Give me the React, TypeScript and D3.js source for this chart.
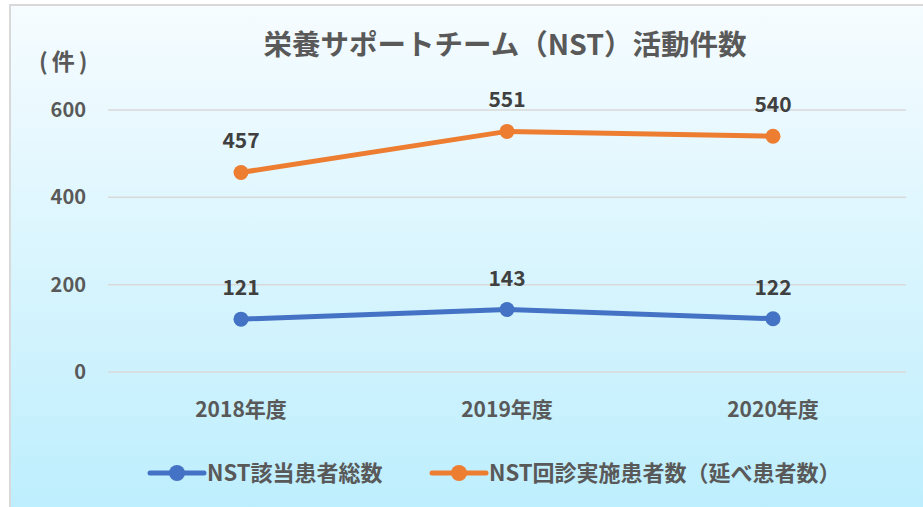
import { useEffect, useRef } from 'react';
import * as d3 from 'd3';

const categories = ['2018年度', '2019年度', '2020年度'];
const seriesNames = ['NST該当患者総数', 'NST回診実施患者数（延べ患者数）'];
const totalPatients = [121, 143, 122];
const roundPatients = [457, 551, 540];
const yTicks = [0, 200, 400, 600];
const colors = ['#4472C4', '#ED7D31'];

const App = () => {
  const svgRef = useRef<SVGSVGElement>(null);

  useEffect(() => {
    const W = 923;
    const H = 507;
    const font = '"Noto Sans CJK JP", "Noto Sans", sans-serif';

    const svg = d3.select(svgRef.current);
    svg.selectAll('*').remove();
    svg.attr('width', W).attr('height', H);

    // 背景グラデーション
    const defs = svg.append('defs');
    const grad = defs.append('linearGradient')
      .attr('id', 'bg')
      .attr('x1', 0).attr('y1', 0).attr('x2', 0).attr('y2', 1);
    grad.append('stop').attr('offset', '0%').attr('stop-color', '#f6fcff');
    grad.append('stop').attr('offset', '100%').attr('stop-color', '#bdeefd');

    svg.append('rect')
      .attr('x', 10).attr('y', 5)
      .attr('width', W).attr('height', H)
      .attr('fill', 'url(#bg)')
      .attr('stroke', '#d9d9d9')
      .attr('stroke-width', 2);

    // Escalas
    const x = d3.scaleBand().domain(categories).range([108, 906]);
    const y = d3.scaleLinear().domain([0, 600]).range([372, 110]);
    const cx = (i: number) => x(categories[i])! + x.bandwidth() / 2;

    // グリッド
    svg.append('g')
      .selectAll('line')
      .data(yTicks)
      .join('line')
      .attr('x1', 108).attr('x2', 906)
      .attr('y1', d => y(d)).attr('y2', d => y(d))
      .attr('stroke', '#d9d9d9')
      .attr('stroke-width', 1.5);

    // Y軸ラベル
    svg.append('g')
      .selectAll('text')
      .data(yTicks)
      .join('text')
      .attr('x', 86)
      .attr('y', d => y(d) + 7)
      .attr('text-anchor', 'end')
      .attr('font-family', font)
      .attr('font-weight', 'bold')
      .attr('font-size', 20)
      .attr('fill', '#595959')
      .text(d => d);

    // X軸ラベル
    svg.append('g')
      .selectAll('text')
      .data(categories)
      .join('text')
      .attr('x', d => x(d)! + x.bandwidth() / 2)
      .attr('y', 417)
      .attr('text-anchor', 'middle')
      .attr('font-family', font)
      .attr('font-weight', 'bold')
      .attr('font-size', 21)
      .attr('fill', '#595959')
      .text(d => d);

    // タイトル
    svg.append('text')
      .attr('x', 505)
      .attr('y', 55)
      .attr('text-anchor', 'middle')
      .attr('font-family', font)
      .attr('font-weight', 'bold')
      .attr('font-size', 28.5)
      .attr('fill', '#595959')
      .text('栄養サポートチーム（NST）活動件数');

    svg.append('text')
      .attr('x', 39)
      .attr('y', 70)
      .attr('font-family', font)
      .attr('font-weight', 'bold')
      .attr('font-size', 23)
      .attr('letter-spacing', 4)
      .attr('fill', '#595959')
      .text('(件)');

    // 線
    const series = [totalPatients, roundPatients];
    const line = d3.line<number>()
      .x((_, i) => cx(i))
      .y(d => y(d));

    series.forEach((vals, si) => {
      const g = svg.append('g');
      g.append('path')
        .datum(vals)
        .attr('fill', 'none')
        .attr('stroke', colors[si])
        .attr('stroke-width', 5)
        .attr('stroke-linecap', 'round')
        .attr('d', line);
      g.selectAll('circle')
        .data(vals)
        .join('circle')
        .attr('cx', (_, i) => cx(i))
        .attr('cy', d => y(d))
        .attr('r', 7.5)
        .attr('fill', colors[si]);
      g.selectAll('text')
        .data(vals)
        .join('text')
        .attr('x', (_, i) => cx(i))
        .attr('y', d => y(d) - 24)
        .attr('text-anchor', 'middle')
        .attr('font-family', font)
        .attr('font-weight', 'bold')
        .attr('font-size', 21)
        .attr('fill', '#404040')
        .text(d => d);
    });

    // 凡例
    const legendX = [150, 432];
    seriesNames.forEach((name, si) => {
      const lx = legendX[si];
      const ly = 473;
      svg.append('line')
        .attr('x1', lx).attr('x2', lx + 54)
        .attr('y1', ly).attr('y2', ly)
        .attr('stroke', colors[si])
        .attr('stroke-width', 5)
        .attr('stroke-linecap', 'round');
      svg.append('circle')
        .attr('cx', lx + 27).attr('cy', ly)
        .attr('r', 8)
        .attr('fill', colors[si]);
      svg.append('text')
        .attr('x', lx + 57)
        .attr('y', ly + 8)
        .attr('font-family', font)
        .attr('font-weight', 'bold')
        .attr('font-size', 22)
        .attr('fill', '#595959')
        .text(name);
    });
  }, []);

  return <svg ref={svgRef} style={{ position: 'absolute', left: 0, top: 0 }}></svg>;
};

export default App;
